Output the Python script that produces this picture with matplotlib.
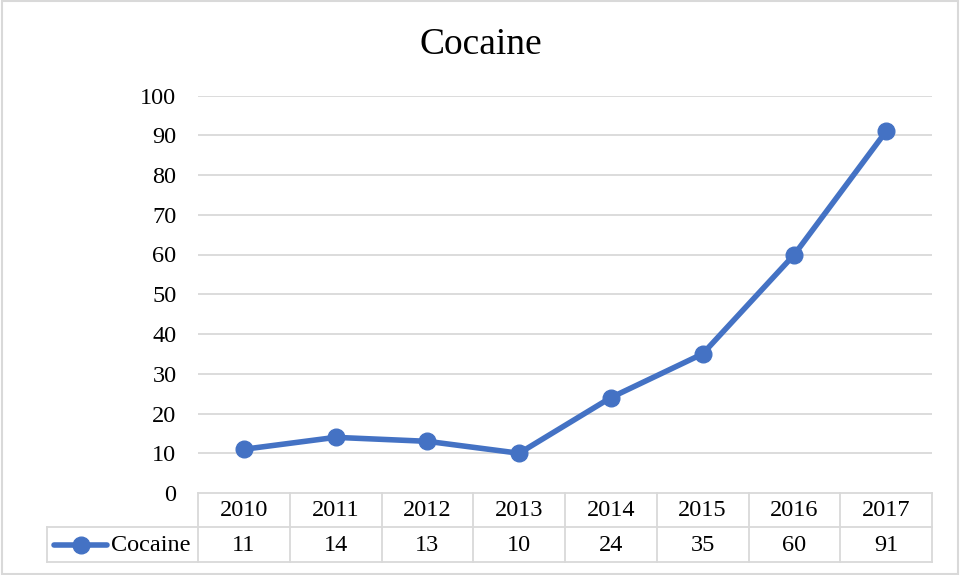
import matplotlib
matplotlib.use("Agg")
import matplotlib.pyplot as plt
from matplotlib.lines import Line2D
from matplotlib.patches import Rectangle
from matplotlib.transforms import blended_transform_factory

years = ["2010", "2011", "2012", "2013", "2014", "2015", "2016", "2017"]
values = [11, 14, 13, 10, 24, 35, 60, 91]
series_name = "Cocaine"
title = "Cocaine"
yticks = [0, 10, 20, 30, 40, 50, 60, 70, 80, 90, 100]

W, H = 961, 575
plt.rcParams['font.family'] = ['Liberation Serif', 'DejaVu Serif']
fig = plt.figure(figsize=(W / 100, H / 100), dpi=100)

blue = "#4472C4"
grid = "#D9D9D9"
fs = 17.5
lwl = 4.0
ms = 12

def fx(px):
    return px / W

def fy(py):
    return 1 - py / H

left, right, top, bottom = 198, 932, 95.5, 493
ax = fig.add_axes([fx(left), fy(bottom), fx(right - left), (bottom - top) / H])
x = list(range(len(years)))
ax.plot(x, values, color=blue, linewidth=lwl, marker='o', markersize=ms,
        solid_capstyle='round', zorder=3, clip_on=False)
ax.set_xlim(-0.5, len(years) - 0.5)
ax.set_ylim(0, 100)
ax.set_yticks(yticks)
ax.set_yticklabels([str(t) for t in yticks], fontsize=fs)
ax.tick_params(axis='y', length=0, pad=15.5)
ax.set_xticks([])
for s in ax.spines.values():
    s.set_visible(False)
for t in yticks[1:]:
    ax.axhline(t, color=grid, linewidth=1.3, zorder=1)

fig.text(0.5, fy(45), title, fontsize=27, ha='center', va='center')

# Data table
tr = blended_transform_factory(ax.transData, fig.transFigure)
y0, y1, y2 = fy(493), fy(527), fy(562)
n = len(years)
lw = 1.3
fig.add_artist(Line2D([-0.5, n - 0.5], [y0, y0], transform=tr, color=grid, lw=lw))
fig.add_artist(Line2D([fx(46.7), fx(right)], [y1, y1], transform=fig.transFigure, color=grid, lw=lw))
fig.add_artist(Line2D([fx(46.7), fx(right)], [y2, y2], transform=fig.transFigure, color=grid, lw=lw))
fig.add_artist(Line2D([fx(46.7), fx(46.7)], [y1, y2], transform=fig.transFigure, color=grid, lw=lw))
for i in range(n + 1):
    fig.add_artist(Line2D([i - 0.5, i - 0.5], [y0, y2], transform=tr, color=grid, lw=lw))
for i, (yr, v) in enumerate(zip(years, values)):
    fig.text(i, fy(511), yr, transform=tr, ha='center', va='center', fontsize=fs)
    fig.text(i, fy(545.5), str(v), transform=tr, ha='center', va='center', fontsize=fs)

# legend key in table
ym = fy(545)
fig.add_artist(Line2D([fx(54), fx(107)], [ym, ym], transform=fig.transFigure,
                      color=blue, lw=lwl, solid_capstyle='round'))
fig.add_artist(Line2D([fx(80.5)], [ym], transform=fig.transFigure, color=blue,
                      marker='o', markersize=ms, linestyle='none'))
fig.text(fx(111), fy(545.5), series_name, ha='left', va='center', fontsize=fs)

# chart border
fig.add_artist(Rectangle((fx(1.5), fy(574)), fx(956), (573.5 - 0.5) / H,
                         transform=fig.transFigure, fill=False, edgecolor=grid, lw=1.5))

fig.savefig("out.png", dpi=100)
